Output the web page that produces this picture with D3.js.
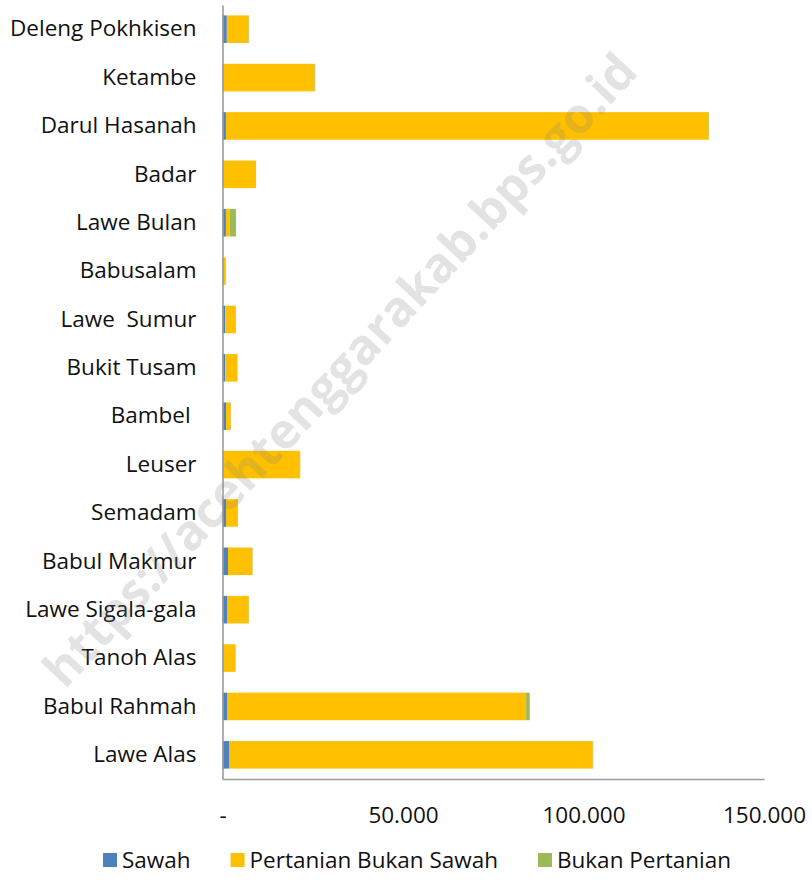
<!DOCTYPE html>
<html>
<head>
<meta charset="utf-8">
<script src="https://cdn.jsdelivr.net/npm/d3@7"></script>
<style>
  body { margin: 0; background: #fff; }
  svg { display: block; font-family: "Open Sans", "Noto Sans", sans-serif; }
  text { white-space: pre; }
</style>
</head>
<body>
<svg id="chart" width="812" height="882"></svg>
<script>
// kecamatan, top to bottom as drawn
var kecamatan = ["Deleng Pokhkisen", "Ketambe", "Darul Hasanah", "Badar", "Lawe Bulan",
  "Babusalam", "Lawe  Sumur", "Bukit Tusam", "Bambel ", "Leuser", "Semadam",
  "Babul Makmur", "Lawe Sigala-gala", "Tanoh Alas", "Babul Rahmah", "Lawe Alas"];

var sawah = [1200, 100, 950, 100, 950, 150, 780, 780, 970, 100, 970, 1520, 1250, 300, 1250, 1800];
var pertanianBukanSawah = [6000, 25400, 133700, 9000, 1000, 750, 2870, 3240, 1300, 21300, 3230, 6730, 6000, 3230, 82850, 100750];
var bukanPertanian = [180, 200, 150, 200, 1770, 40, 100, 100, 100, 150, 100, 100, 100, 100, 1000, 150];

var seriesNames = ["Sawah", "Pertanian Bukan Sawah", "Bukan Pertanian"];
var seriesColors = ["#4f81bd", "#ffc000", "#9bbb59"];
var xTicks = [0, 50000, 100000, 150000];

var rows = kecamatan.map(function (k, i) {
  return { name: k, Sawah: sawah[i], "Pertanian Bukan Sawah": pertanianBukanSawah[i], "Bukan Pertanian": bukanPertanian[i] };
});

var svg = d3.select("#chart");
var fontSize = "22.5px";

var x = d3.scaleLinear().domain([0, 150000]).range([222.5, 764]);
var y = d3.scaleBand().domain(kecamatan).range([5, 779]).paddingInner(0.43).paddingOuter(0.215);
var color = d3.scaleOrdinal().domain(seriesNames).range(seriesColors);

var stacked = d3.stack().keys(seriesNames)(rows);

// bars
svg.append("g")
  .selectAll("g")
  .data(stacked)
  .join("g")
  .attr("fill", function (d) { return color(d.key); })
  .selectAll("rect")
  .data(function (d) { return d; })
  .join("rect")
  .attr("x", function (d) { return x(d[0]); })
  .attr("y", function (d) { return y(d.data.name); })
  .attr("width", function (d) { return x(d[1]) - x(d[0]); })
  .attr("height", y.bandwidth());

// axes
var fmt = function (v) {
  if (v === 0) return "-";
  return d3.format(",")(v).replace(/,/g, ".");
};

var xAxis = svg.append("g")
  .attr("transform", "translate(0,779)")
  .call(d3.axisBottom(x).tickValues(xTicks).tickFormat(fmt).tickSize(0).tickPadding(0));
xAxis.select(".domain").attr("stroke", "#9c9c9c").attr("stroke-width", 1.6);
xAxis.selectAll("text")
  .attr("y", 44)
  .attr("dy", null)
  .attr("fill", "#111")
  .style("font-size", fontSize)
  .style("font-family", "'Open Sans', sans-serif");

var yAxis = svg.append("g")
  .attr("transform", "translate(222.5,0)")
  .call(d3.axisLeft(y).tickSize(0).tickPadding(26));
yAxis.select(".domain").attr("stroke", "#9c9c9c").attr("stroke-width", 1.6);
yAxis.selectAll("text")
  .attr("fill", "#111")
  .style("font-size", fontSize)
  .style("font-family", "'Open Sans', sans-serif");

// legend
var legend = svg.append("g").attr("transform", "translate(103,0)");
var lx = 0;
seriesNames.forEach(function (s) {
  legend.append("rect")
    .attr("x", lx).attr("y", 853)
    .attr("width", 14).attr("height", 14)
    .attr("fill", color(s));
  var t = legend.append("text")
    .attr("x", lx + 19).attr("y", 868)
    .attr("fill", "#111")
    .style("font-size", fontSize)
    .text(s);
  lx += 19 + t.node().getComputedTextLength() + 40;
});

// watermark
svg.append("text")
  .attr("transform", "translate(340,370) rotate(-47)")
  .attr("text-anchor", "middle")
  .attr("dy", "0.35em")
  .attr("fill", "#808080")
  .attr("fill-opacity", 0.22)
  .style("font-size", "49px")
  .style("font-weight", "bold")
  .text("https://acehtenggarakab.bps.go.id");
</script>
</body>
</html>
